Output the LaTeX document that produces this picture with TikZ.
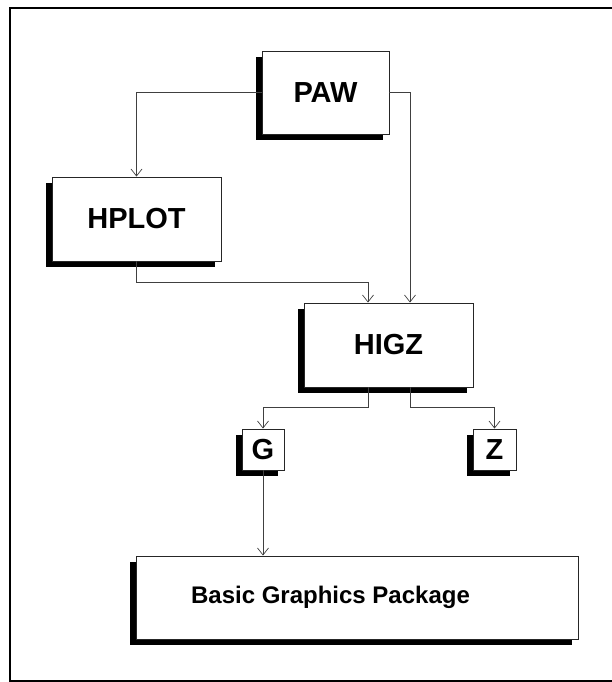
\documentclass[tikz,border=0pt]{standalone}
\usepackage{fontspec}
\setmainfont{Liberation Sans}
\usepackage{tikz}
\definecolor{gray700}{HTML}{404040}
\usetikzlibrary{arrows.meta,shadows}
\tikzstyle{modul}=[rectangle, draw=black!85, line width=0.9pt, fill=white, font=\bfseries\fontsize{29}{31}\selectfont, drop shadow={shadow xshift=-6pt, shadow yshift=-6pt, fill=black, opacity=1}]
\tikzstyle{wire}=[draw=gray700, line width=0.7pt]

\begin{document}
\begin{tikzpicture}[x=1pt, y=-1pt, ->, >={Straight Barb[length=7pt,width=11pt]}]
				\useasboundingbox (0,0) rectangle (611,682);
				\draw[-, line width=1.6pt] (10,8) rectangle (625,681);
				\node[modul, minimum width=127pt, minimum height=83pt] (paw) at (325.5,92.5) {PAW};
				\node[modul, minimum width=169pt, minimum height=84pt] (hplot) at (136.5,219) {HPLOT};
				\node[modul, minimum width=169pt, minimum height=84pt] (higz) at (388.5,345) {HIGZ};
				\node[modul, minimum width=42pt, minimum height=41pt] (g) at (263,449.5) {G};
				\node[modul, minimum width=43pt, minimum height=41pt] (z) at (494.5,449.5) {Z};
				\node[modul, minimum width=442pt, minimum height=83pt, label={[xshift=-26.5pt, font=\bfseries\fontsize{24}{26}\selectfont]center:Basic Graphics Package}] (bgp) at (357,597.5) {};
				\draw[wire] (paw.west) -| (hplot.north);
				\draw[wire] (paw.east) -| ([xshift=21.5pt]higz.north);
				\draw[wire] (hplot.south) -- ++(0,21) -| ([xshift=-20.5pt]higz.north);
				\draw[wire] ([xshift=-20.5pt]higz.south) -- ++(0,20) -| (g.north);
				\draw[wire] ([xshift=21.5pt]higz.south) -- ++(0,20) -| (z.north);
				\draw[wire] (g.south) -- (g.south |- bgp.north);
			\end{tikzpicture}
\end{document}
